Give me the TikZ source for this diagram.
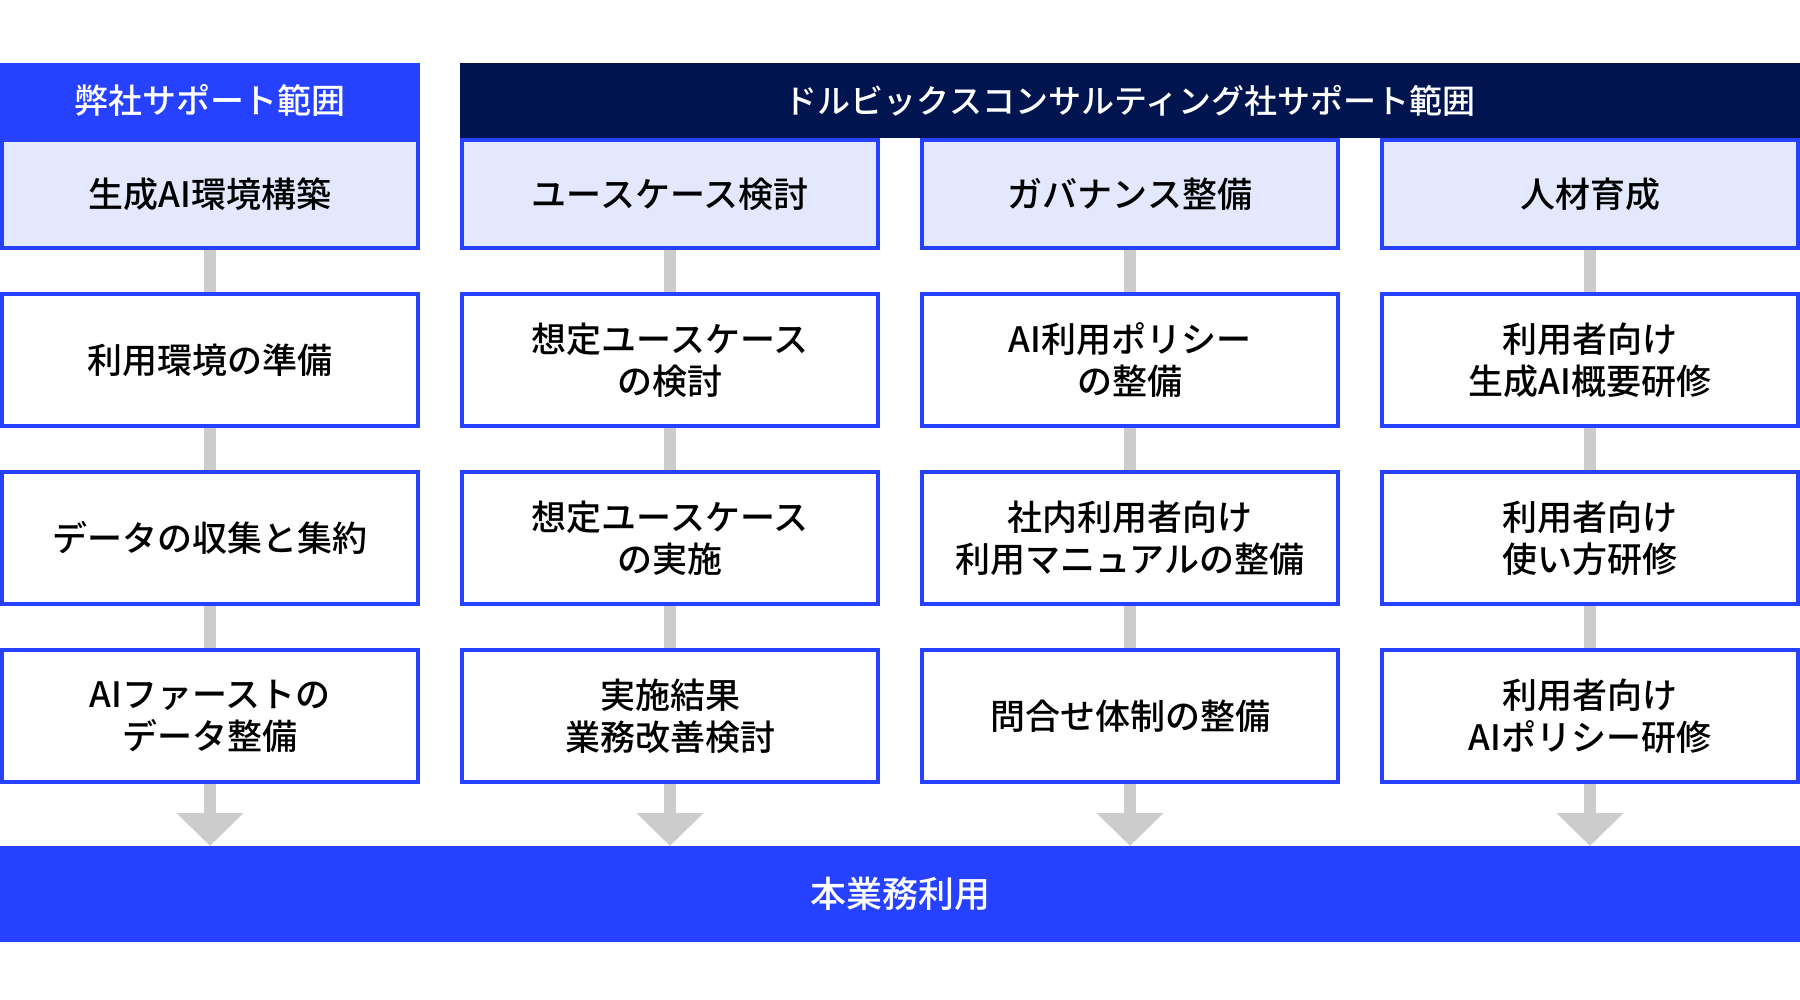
\documentclass[tikz,border=0pt]{standalone}
\usepackage{fontspec}
\newfontfamily\jp{Noto Sans CJK JP}[UprightFont=* Medium]
\usetikzlibrary{positioning}
\usetikzlibrary{arrows.meta}
\definecolor{brand}{HTML}{2641FF}
\definecolor{navy}{HTML}{00144F}
\definecolor{pale}{HTML}{E3E8FD}
\definecolor{link}{HTML}{CCCCCC}
\tikzset{%
  wb/.style = {rectangle,draw=brand,line width=4pt,fill=white,
        minimum width=416pt,minimum height=132pt,inner sep=0pt,
        align=center,font=\jp\fontsize{35}{42}\selectfont},
  lb/.style = {wb,fill=pale,minimum height=108pt},
  hd/.style = {rectangle,inner sep=0pt,outer sep=0pt,minimum height=75pt,
        text=white,font=\jp\fontsize{34}{40}\selectfont},
  flow/.style = {draw=link,line width=12pt},
  goalarrow/.style = {flow,-{Triangle[width=65pt,length=33pt]}}
}
\begin{document}
\begin{tikzpicture}[x=1pt,y=1pt,node distance=42pt and 40pt]
   \useasboundingbox (0,0) rectangle (1800,-1000);
   \node[lb,anchor=north west] (a1) at (0,-138) {生成AI環境構築};
   \node[lb] (b1) [right=of a1] {ユースケース検討};
   \node[lb] (c1) [right=of b1] {ガバナンス整備};
   \node[lb] (d1) [right=of c1] {人材育成};

   \node[wb] (a2) [below=of a1] {利用環境の準備};
   \node[wb] (a3) [below=of a2] {データの収集と集約};
   \node[wb] (a4) [below=of a3] {AIファーストの\\データ整備};

   \node[wb] (b2) [below=of b1] {想定ユースケース\\の検討};
   \node[wb] (b3) [below=of b2] {想定ユースケース\\の実施};
   \node[wb] (b4) [below=of b3] {実施結果\\業務改善検討};

   \node[wb] (c2) [below=of c1] {AI利用ポリシー\\の整備};
   \node[wb] (c3) [below=of c2] {社内利用者向け\\利用マニュアルの整備};
   \node[wb] (c4) [below=of c3] {問合せ体制の整備};

   \node[wb] (d2) [below=of d1] {利用者向け\\生成AI概要研修};
   \node[wb] (d3) [below=of d2] {利用者向け\\使い方研修};
   \node[wb] (d4) [below=of d3] {利用者向け\\AIポリシー研修};

   \node[hd,fill=brand,minimum width=420pt] (ours) [above=0pt of a1] {弊社サポート範囲};
   \node[hd,fill=navy,minimum width=1340pt,anchor=south west,
        font=\jp\fontsize{33}{40}\selectfont] (dolbix)
        at (b1.north west) {ドルビックスコンサルティング社サポート範囲};
   \node[hd,fill=brand,minimum width=1800pt,minimum height=96pt,anchor=north west,
        font=\jp\fontsize{36}{42}\selectfont]
        (goal) at ([yshift=-62pt]a4.south west) {本業務利用};

   \draw[flow] (a1) -- (a2);
   \draw[flow] (a2) -- (a3);
   \draw[flow] (a3) -- (a4);
   \draw[flow] (b1) -- (b2);
   \draw[flow] (b2) -- (b3);
   \draw[flow] (b3) -- (b4);
   \draw[flow] (c1) -- (c2);
   \draw[flow] (c2) -- (c3);
   \draw[flow] (c3) -- (c4);
   \draw[flow] (d1) -- (d2);
   \draw[flow] (d2) -- (d3);
   \draw[flow] (d3) -- (d4);

   \draw[goalarrow] (a4) -- (a4 |- goal.north);
   \draw[goalarrow] (b4) -- (b4 |- goal.north);
   \draw[goalarrow] (c4) -- (c4 |- goal.north);
   \draw[goalarrow] (d4) -- (d4 |- goal.north);
\end{tikzpicture}
\end{document}
